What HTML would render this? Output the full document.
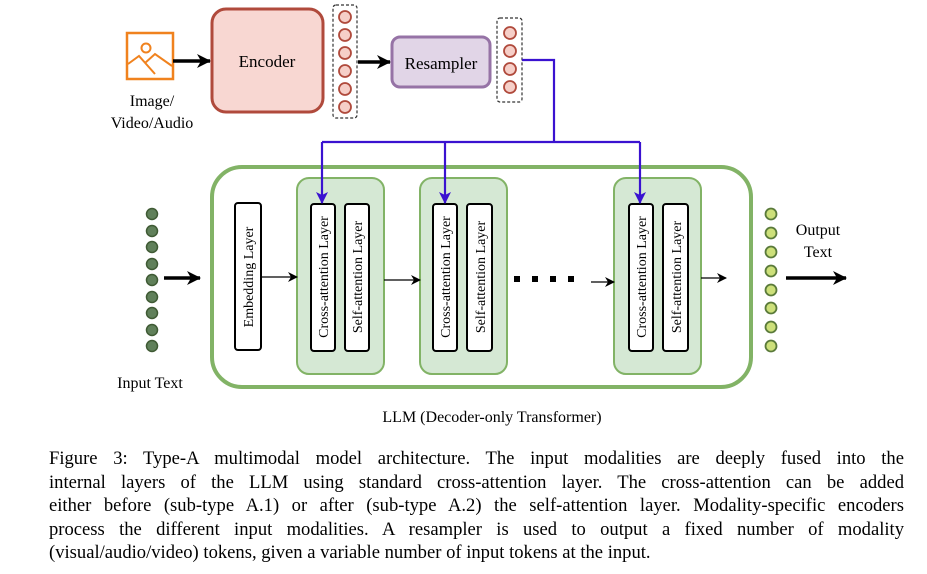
<!DOCTYPE html>
<html><head><meta charset="utf-8"><style>
body{margin:0;background:#fff;width:927px;height:574px;overflow:hidden;position:relative;font-family:"Liberation Serif","Tinos","Times New Roman","DejaVu Serif",serif}
svg text{font-family:"Liberation Serif","Tinos","Times New Roman","DejaVu Serif",serif}
.cap{position:absolute;left:49px;top:447px;width:855px;font-size:18.6px;line-height:23.6px;text-align:justify;color:#000}
.cap span{display:block;text-align-last:justify}
.cap span.l{text-align-last:left}
</style></head><body>
<svg width="927" height="574" style="position:absolute;left:0;top:0">
<defs>
<marker id="ab" markerWidth="10" markerHeight="10" refX="9" refY="5" orient="auto" markerUnits="userSpaceOnUse"><path d="M0,0 L10,5 L0,10 L3,5z" fill="#000"/></marker>
<marker id="abl" markerWidth="14" markerHeight="14" refX="13" refY="7" orient="auto" markerUnits="userSpaceOnUse"><path d="M0,0 L14,7 L0,14 L4,7z" fill="#000"/></marker>
<marker id="bl" markerWidth="12" markerHeight="12" refX="11" refY="6" orient="auto" markerUnits="userSpaceOnUse"><path d="M0,0 L12,6 L0,12 L3,6z" fill="#3a12d0"/></marker>
</defs>
<rect x="127" y="33" width="46" height="46" fill="#fff" stroke="#f0821e" stroke-width="2.5"/>
<circle cx="146" cy="48" r="4.5" fill="none" stroke="#f0821e" stroke-width="2"/>
<path d="M128,64 L139,56 L155,74 M145,63 L155,54 L172,66" fill="none" stroke="#f0821e" stroke-width="2"/>
<line x1="173" y1="61" x2="210" y2="61" stroke="#000" stroke-width="3.5" marker-end="url(#abl)"/>
<text x="152" y="106" font-size="16" text-anchor="middle">Image/</text>
<text x="152" y="128" font-size="16" text-anchor="middle">Video/Audio</text>
<rect x="212" y="9" width="111" height="103" rx="14" fill="#f8d7d2" stroke="#b04a3c" stroke-width="3"/>
<text x="267" y="67" font-size="17" text-anchor="middle">Encoder</text>
<rect x="333" y="5" width="24" height="113" rx="3" fill="none" stroke="#333" stroke-width="1.2" stroke-dasharray="3,2"/>
<g fill="#f6cfc8" stroke="#b04a3c" stroke-width="1.8">
<circle cx="345" cy="17" r="6"/><circle cx="345" cy="35" r="6"/><circle cx="345" cy="53" r="6"/><circle cx="345" cy="71" r="6"/><circle cx="345" cy="89" r="6"/><circle cx="345" cy="107" r="6"/>
<circle cx="510" cy="33" r="6"/><circle cx="510" cy="51" r="6"/><circle cx="510" cy="69" r="6"/><circle cx="510" cy="87" r="6"/>
</g>
<line x1="358" y1="62" x2="390" y2="62" stroke="#000" stroke-width="3.5" marker-end="url(#abl)"/>
<rect x="392" y="37" width="98" height="50" rx="8" fill="#e1d5e7" stroke="#9673a6" stroke-width="3"/>
<text x="441" y="69" font-size="17" text-anchor="middle">Resampler</text>
<rect x="497" y="18" width="25" height="84" rx="3" fill="none" stroke="#333" stroke-width="1.2" stroke-dasharray="3,2"/>
<path d="M522,60 H554 V142 H322 M640,142 H554" fill="none" stroke="#3a12d0" stroke-width="2.2"/>
<rect x="212" y="167" width="539" height="220" rx="30" fill="none" stroke="#82b366" stroke-width="4"/>
<g fill="#d5e8d4" stroke="#82b366" stroke-width="2">
<rect x="297" y="178" width="87" height="196" rx="12"/>
<rect x="420" y="178" width="87" height="196" rx="12"/>
<rect x="614" y="178" width="87" height="196" rx="12"/>
</g>
<g fill="#fff" stroke="#000" stroke-width="2">
<rect x="235" y="203" width="26" height="147" rx="3"/>
<rect x="311" y="204" width="24" height="147" rx="3"/><rect x="345" y="204" width="24" height="147" rx="3"/>
<rect x="433" y="204" width="24" height="147" rx="3"/><rect x="467" y="204" width="25" height="147" rx="3"/>
<rect x="629" y="204" width="24" height="147" rx="3"/><rect x="663" y="204" width="25" height="147" rx="3"/>
</g>
<line x1="322" y1="142" x2="322" y2="203" stroke="#3a12d0" stroke-width="2.2" marker-end="url(#bl)"/>
<line x1="445" y1="142" x2="445" y2="203" stroke="#3a12d0" stroke-width="2.2" marker-end="url(#bl)"/>
<line x1="640" y1="142" x2="640" y2="203" stroke="#3a12d0" stroke-width="2.2" marker-end="url(#bl)"/>
<g font-size="14" text-anchor="middle">
<text transform="translate(253,277) rotate(-90)">Embedding Layer</text>
<text transform="translate(328,277) rotate(-90)">Cross-attention Layer</text>
<text transform="translate(362,277) rotate(-90)">Self-attention Layer</text>
<text transform="translate(450,277) rotate(-90)">Cross-attention Layer</text>
<text transform="translate(485,277) rotate(-90)">Self-attention Layer</text>
<text transform="translate(646,277) rotate(-90)">Cross-attention Layer</text>
<text transform="translate(681,277) rotate(-90)">Self-attention Layer</text>
</g>
<g stroke="#000" stroke-width="1.2">
<line x1="261" y1="277" x2="297" y2="277" marker-end="url(#ab)"/>
<line x1="384" y1="280" x2="420" y2="280" marker-end="url(#ab)"/>
<line x1="591" y1="282" x2="614" y2="282" marker-end="url(#ab)"/>
<line x1="701" y1="278" x2="726" y2="278" marker-end="url(#ab)"/>
</g>
<g fill="#000"><rect x="514" y="276" width="6" height="6"/><rect x="532" y="276" width="6" height="6"/><rect x="550" y="276" width="6" height="6"/><rect x="568" y="276" width="6" height="6"/></g>
<g fill="#60805a" stroke="#3f5a34" stroke-width="1.5">
<circle cx="152" cy="214" r="5.5"/><circle cx="152" cy="231" r="5.5"/><circle cx="152" cy="247" r="5.5"/><circle cx="152" cy="264" r="5.5"/><circle cx="152" cy="280" r="5.5"/><circle cx="152" cy="297" r="5.5"/><circle cx="152" cy="313" r="5.5"/><circle cx="152" cy="330" r="5.5"/><circle cx="152" cy="346" r="5.5"/>
</g>
<line x1="164" y1="278" x2="200" y2="278" stroke="#000" stroke-width="3.5" marker-end="url(#abl)"/>
<g fill="#cde07a" stroke="#5a7a3a" stroke-width="1.8">
<circle cx="771" cy="214" r="5.5"/><circle cx="771" cy="233" r="5.5"/><circle cx="771" cy="252" r="5.5"/><circle cx="771" cy="271" r="5.5"/><circle cx="771" cy="290" r="5.5"/><circle cx="771" cy="308" r="5.5"/><circle cx="771" cy="327" r="5.5"/><circle cx="771" cy="346" r="5.5"/>
</g>
<line x1="786" y1="278" x2="846" y2="278" stroke="#000" stroke-width="3.5" marker-end="url(#abl)"/>
<text x="818" y="235" font-size="16" text-anchor="middle">Output</text>
<text x="818" y="257" font-size="16" text-anchor="middle">Text</text>
<text x="150" y="388" font-size="16" text-anchor="middle">Input Text</text>
<text x="492" y="422" font-size="16" text-anchor="middle">LLM (Decoder-only Transformer)</text>
</svg>
<div class="cap">
<span>Figure 3: Type-A multimodal model architecture. The input modalities are deeply fused into the</span>
<span>internal layers of the LLM using standard cross-attention layer. The cross-attention can be added</span>
<span>either before (sub-type A.1) or after (sub-type A.2) the self-attention layer. Modality-specific encoders</span>
<span>process the different input modalities. A resampler is used to output a fixed number of modality</span>
<span class="l">(visual/audio/video) tokens, given a variable number of input tokens at the input.</span>
</div>
</body></html>
